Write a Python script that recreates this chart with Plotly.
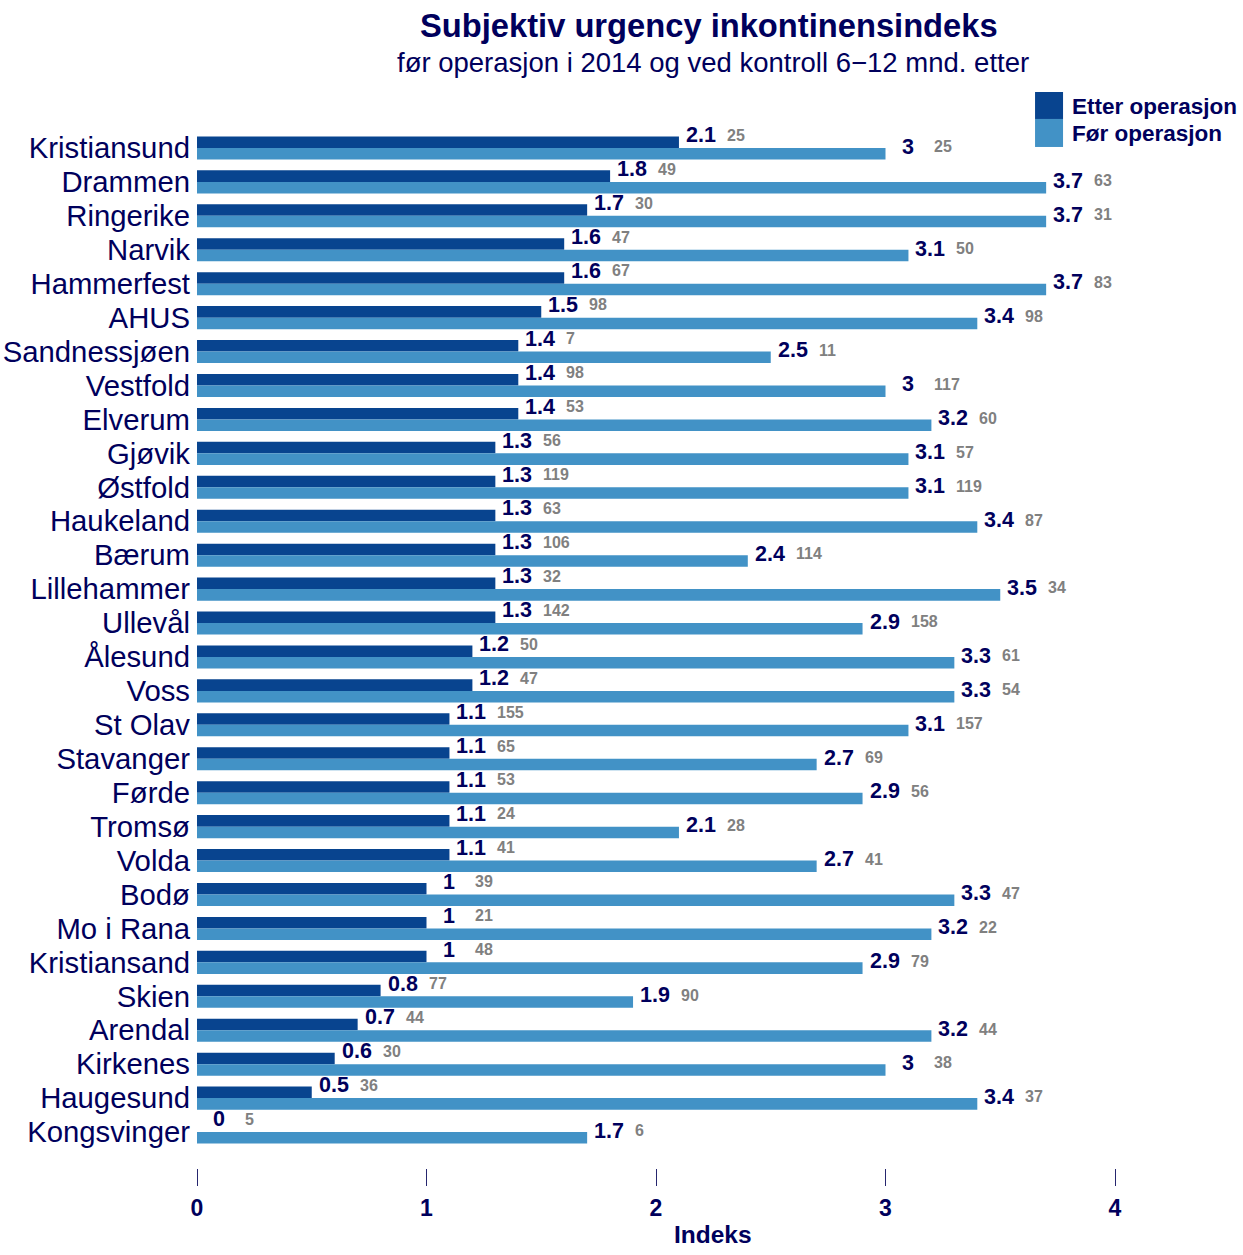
import plotly.graph_objects as go

categories = ["Kristiansund", "Drammen", "Ringerike", "Narvik", "Hammerfest", "AHUS",
              "Sandnessjøen", "Vestfold", "Elverum", "Gjøvik", "Østfold", "Haukeland",
              "Bærum", "Lillehammer", "Ullevål", "Ålesund", "Voss", "St Olav", "Stavanger",
              "Førde", "Tromsø", "Volda", "Bodø", "Mo i Rana", "Kristiansand", "Skien",
              "Arendal", "Kirkenes", "Haugesund", "Kongsvinger"]
etter = [2.1, 1.8, 1.7, 1.6, 1.6, 1.5, 1.4, 1.4, 1.4, 1.3, 1.3, 1.3, 1.3, 1.3, 1.3,
         1.2, 1.2, 1.1, 1.1, 1.1, 1.1, 1.1, 1.0, 1.0, 1.0, 0.8, 0.7, 0.6, 0.5, 0.0]
n_etter = [25, 49, 30, 47, 67, 98, 7, 98, 53, 56, 119, 63, 106, 32, 142,
           50, 47, 155, 65, 53, 24, 41, 39, 21, 48, 77, 44, 30, 36, 5]
foer = [3.0, 3.7, 3.7, 3.1, 3.7, 3.4, 2.5, 3.0, 3.2, 3.1, 3.1, 3.4, 2.4, 3.5, 2.9,
        3.3, 3.3, 3.1, 2.7, 2.9, 2.1, 2.7, 3.3, 3.2, 2.9, 1.9, 3.2, 3.0, 3.4, 1.7]
n_foer = [25, 63, 31, 50, 83, 98, 11, 117, 60, 57, 119, 87, 114, 34, 158,
          61, 54, 157, 69, 56, 28, 41, 47, 22, 79, 90, 44, 38, 37, 6]
x_ticks = [0, 1, 2, 3, 4]

DARK = "#08448F"
LIGHT = "#4292C6"
NAVY = "#00005C"
GRAY = "#808080"
FONT = "Liberation Sans"
BARGAP = 0.32
half = (1 - BARGAP) / 4  # offset of each bar centre from group centre

pos = list(range(len(categories)))

fig = go.Figure()
fig.add_trace(go.Bar(y=pos, x=etter, orientation="h", name="Etter operasjon",
                     marker=dict(color=DARK, line=dict(width=0)), showlegend=False))
fig.add_trace(go.Bar(y=pos, x=foer, orientation="h", name="Før operasjon",
                     marker=dict(color=LIGHT, line=dict(width=0)), showlegend=False))

annotations = []
for i in pos:
    for val, n, off in ((etter[i], n_etter[i], -half), (foer[i], n_foer[i], half)):
        yv = i + off
        label = f"{val:g}"
        annotations.append(dict(x=val, y=yv, xref="x", yref="y", text=f"<b>{label}</b>",
                                showarrow=False, xanchor="center", yanchor="middle",
                                xshift=22, yshift=7,
                                font=dict(family=FONT, size=21.5, color=NAVY)))
        annotations.append(dict(x=val, y=yv, xref="x", yref="y", text=f"<b>{n}</b>",
                                showarrow=False, xanchor="left", yanchor="middle",
                                xshift=46, yshift=7,
                                font=dict(family=FONT, size=16, color=GRAY)))

# Titles
annotations.append(dict(x=0.5577, y=1.1022, xref="paper", yref="paper", showarrow=False,
                        text="<b>Subjektiv urgency inkontinensindeks</b>",
                        xanchor="center", yanchor="middle",
                        font=dict(family=FONT, size=32.7, color=NAVY)))
annotations.append(dict(x=0.562, y=1.0656, xref="paper", yref="paper", showarrow=False,
                        text="før operasjon i 2014 og ved kontroll 6−12 mnd. etter",
                        xanchor="center", yanchor="middle",
                        font=dict(family=FONT, size=27.5, color=NAVY)))
# x-axis title
annotations.append(dict(x=0.562, y=-0.0637, xref="paper", yref="paper", showarrow=False,
                        text="<b>Indeks</b>", xanchor="center", yanchor="middle",
                        font=dict(family=FONT, size=24.5, color=NAVY)))
# Legend text
annotations.append(dict(x=0.951, y=1.0241, xref="paper", yref="paper", showarrow=False,
                        text="<b>Etter operasjon</b>", xanchor="left", yanchor="middle",
                        font=dict(family=FONT, size=22.5, color=NAVY)))
annotations.append(dict(x=0.951, y=0.998, xref="paper", yref="paper", showarrow=False,
                        text="<b>Før operasjon</b>", xanchor="left", yanchor="middle",
                        font=dict(family=FONT, size=22.5, color=NAVY)))

shapes = [
    dict(type="rect", xref="paper", yref="paper", x0=0.9129, x1=0.9434, y0=1.0116, y1=1.0376,
         fillcolor=DARK, line=dict(width=0)),
    dict(type="rect", xref="paper", yref="paper", x0=0.9129, x1=0.9434, y0=0.9846, y1=1.0116,
         fillcolor=LIGHT, line=dict(width=0)),
]

fig.update_layout(
    width=1243, height=1255,
    margin=dict(l=197, r=128, t=131, b=87, autoexpand=False),
    barmode="group", bargap=BARGAP, bargroupgap=0,
    plot_bgcolor="white", paper_bgcolor="white",
    annotations=annotations, shapes=shapes,
    showlegend=False,
    xaxis=dict(range=[0, 4], tickvals=x_ticks, ticktext=[str(t) for t in x_ticks],
               automargin=False,
               showgrid=False, zeroline=False, showline=False,
               ticks="outside", ticklen=17, tickwidth=1, tickcolor="#26266E",
               ticklabelstandoff=2,
               tickfont=dict(family=FONT, size=23, color=NAVY, weight="bold")),
    yaxis=dict(range=[30.06, -0.5], tickvals=pos, ticktext=categories,
               automargin=False,
               showgrid=False, zeroline=False, showline=False, ticks="",
               ticklabelstandoff=6,
               tickfont=dict(family=FONT, size=29.3, color=NAVY)),
)

fig.write_html("out.html", config={"displayModeBar": False},
               post_script="document.body.style.margin='0';")
